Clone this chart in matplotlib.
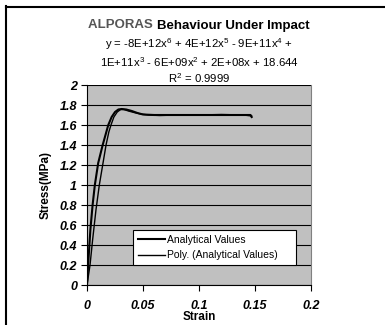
import matplotlib
matplotlib.use("Agg")
import matplotlib.pyplot as plt
from matplotlib.lines import Line2D

plt.rcParams['font.family'] = ['Liberation Sans', 'DejaVu Sans']
plt.rcParams['mathtext.fontset'] = 'custom'
plt.rcParams['mathtext.rm'] = 'Liberation Sans'
plt.rcParams['mathtext.it'] = 'Liberation Sans:italic'

# analytical curve
strain_an = [0, 0.001, 0.003, 0.005, 0.007, 0.010, 0.014, 0.017, 0.019, 0.022,
             0.025, 0.028, 0.031, 0.035, 0.040, 0.045, 0.050, 0.060, 0.080,
             0.100, 0.120, 0.140, 0.146, 0.147]
stress_an = [0, 0.20, 0.55, 0.80, 1.00, 1.22, 1.40, 1.52, 1.60, 1.68,
             1.73, 1.755, 1.76, 1.755, 1.74, 1.72, 1.705, 1.70, 1.70,
             1.70, 1.70, 1.70, 1.70, 1.68]

# polynomial trend line
strain_poly = [0, 0.0027, 0.005, 0.008, 0.011, 0.014, 0.017, 0.0195, 0.0214,
               0.024, 0.027, 0.030, 0.033, 0.037, 0.042, 0.048, 0.055, 0.065,
               0.080, 0.100, 0.120, 0.140, 0.147]
stress_poly = [0, 0.20, 0.45, 0.75, 1.00, 1.20, 1.40, 1.53, 1.60,
               1.68, 1.73, 1.755, 1.755, 1.74, 1.725, 1.71, 1.70, 1.695,
               1.70, 1.70, 1.705, 1.70, 1.69]

xticks = [0, 0.05, 0.1, 0.15, 0.2]
xticklabels = ['0', '0.05', '0.1', '0.15', '0.2']
yticks = [0, 0.2, 0.4, 0.6, 0.8, 1, 1.2, 1.4, 1.6, 1.8, 2]
yticklabels = ['0', '0.2', '0.4', '0.6', '0.8', '1', '1.2', '1.4', '1.6', '1.8', '2']

fig = plt.figure(figsize=(3.85, 3.25), dpi=100)
W, H = 385, 325

# outer chart frame (cut off at right and bottom)
fig.add_artist(Line2D([6.5 / W, 6.5 / W], [0, 1 - 6 / H], color='black', lw=1.5,
                      transform=fig.transFigure))
fig.add_artist(Line2D([6 / W, 1], [1 - 6.5 / H, 1 - 6.5 / H], color='black', lw=1.5,
                      transform=fig.transFigure))

ax = fig.add_axes([87 / W, 1 - 285 / H, 224 / W, 200 / H])
ax.set_facecolor('#c0c0c0')

ax.plot(strain_an, stress_an, color='black', lw=1.5, label='Analytical Values')
ax.plot(strain_poly, stress_poly, color='black', lw=1.0, label='Poly. (Analytical Values)')

ax.set_xlim(0, 0.2)
ax.set_ylim(0, 2)
ax.set_xticks(xticks)
ax.set_xticklabels(xticklabels, fontsize=9, fontweight='bold', style='italic')
ax.set_yticks(yticks)
ax.set_yticklabels(yticklabels, fontsize=9, fontweight='bold', style='italic')
ax.tick_params(direction='out', length=4, width=0.8, pad=3)
ax.tick_params(axis='x', pad=7)
ax.grid(axis='y', color='black', lw=0.8)
ax.set_axisbelow(True)
ax.spines['top'].set_visible(False)
ax.spines['right'].set_color('#808080')
ax.spines['left'].set_linewidth(0.8)
ax.spines['bottom'].set_linewidth(0.8)

ax.set_xlabel('Strain', fontsize=8.5, fontweight='bold', labelpad=-1)
ax.set_ylabel('Stress(MPa)', fontsize=8.5, fontweight='bold', labelpad=6)

leg = ax.legend(loc='lower left',
                bbox_to_anchor=((133 - 87) / 224, (285 - 265) / 200, (296 - 133) / 224, 35 / 200),
                mode='expand', fontsize=7.5, frameon=True, fancybox=False,
                handlelength=2.6, handletextpad=0.2, borderpad=0.45,
                labelspacing=0.5, borderaxespad=0)
leg.get_frame().set_edgecolor('black')
leg.get_frame().set_linewidth(0.8)
leg.get_frame().set_facecolor('white')
leg.get_frame().set_alpha(1)

# title: grey "ALPORAS" followed by black text, centred together
cx = (87 + 311) / 2 / W
ty = 1 - 25.5 / H
t1 = fig.text(0, ty, 'ALPORAS ', color='#555555', fontsize=9.5, fontweight='bold',
              ha='left', va='center')
t2 = fig.text(0, ty, 'Behaviour Under Impact', color='black', fontsize=9.5,
              fontweight='bold', ha='left', va='center')
r = fig.canvas.get_renderer()
w1 = t1.get_window_extent(r).width / W
w2 = t2.get_window_extent(r).width / W
x0 = cx - (w1 + w2) / 2
t1.set_x(x0)
t2.set_x(x0 + w1)

fig.text(cx, 1 - 44 / H, 'y = -8E+12x$^6$ + 4E+12x$^5$ - 9E+11x$^4$ +',
         fontsize=8.2, ha='center', va='center')
fig.text(cx, 1 - 62 / H, '1E+11x$^3$ - 6E+09x$^2$ + 2E+08x + 18.644',
         fontsize=8.2, ha='center', va='center')
fig.text(cx, 1 - 78 / H, 'R$^2$ = 0.9999', fontsize=8.2, ha='center', va='center')

fig.savefig('out.png', dpi=100)
